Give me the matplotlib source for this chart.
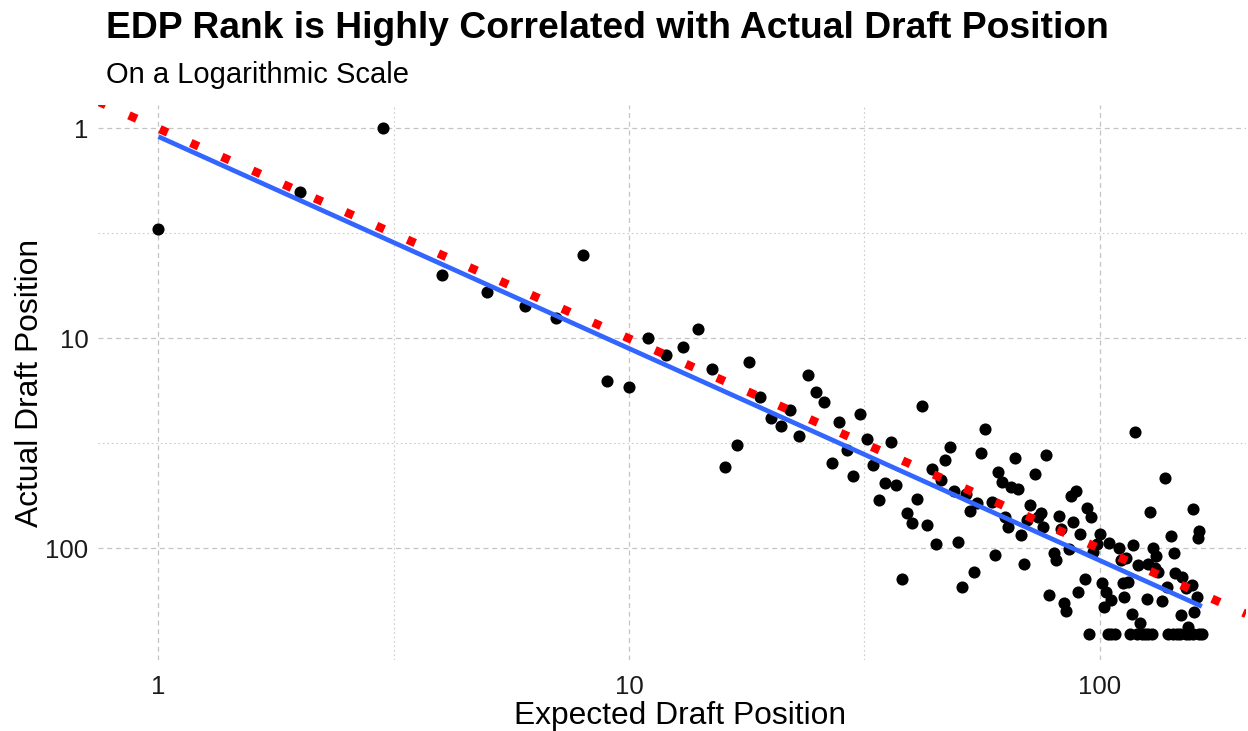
import numpy as np
import matplotlib
matplotlib.use("Agg")
import matplotlib.pyplot as plt
from matplotlib.ticker import FixedLocator, NullFormatter

plt.rcParams['font.family'] = ['Liberation Sans', 'DejaVu Sans']

# expected draft position (EDP rank) and actual draft position
edp = [1, 2, 3, 4, 5, 6, 7, 8, 9, 10, 11, 12, 13, 14, 15, 16, 17, 18, 19, 20,
       21, 22, 23, 24, 25, 26, 27, 28, 29, 30, 31, 32, 33, 34, 35, 36, 37, 38, 39, 40,
       41, 42, 43, 44, 45, 46, 47, 48, 49, 50, 51, 52, 53, 54, 55, 56, 57, 59, 60, 61,
       62, 63, 64, 65, 66, 67, 68, 69, 70, 71, 73, 74, 75, 76, 77, 78, 80, 81, 82, 83,
       84, 85, 86, 87, 88, 89, 90, 91, 93, 94, 96, 97, 99, 100, 101, 102, 103, 105, 106, 110,
       111, 112, 113, 114, 115, 117, 118, 119, 121, 122, 126, 127, 128, 130, 131, 132, 133, 136, 138, 139,
       142, 144, 145, 149, 150, 153, 154, 157, 158, 159, 161, 162, 163,
       95, 104, 108, 116, 120, 125, 129, 140, 143, 148, 153, 158, 165,
       106, 123, 127, 146, 155, 163]
actual = [3, 2, 1, 5, 6, 7, 8, 4, 16, 17, 10, 12, 11, 9, 14, 41, 32, 13, 19, 24,
          26, 22, 29, 15, 18, 20, 39, 25, 34, 45, 23, 30, 40, 59, 49, 31, 50, 140, 68, 76,
          58, 21, 77, 42, 95, 47, 38, 33, 53, 93, 152, 55, 66, 130, 61, 35, 27, 60, 107, 43,
          48, 71, 79, 51, 37, 52, 86, 118, 73, 62, 44, 71, 68, 79, 36, 167, 105, 114, 70, 81,
          181, 198, 101, 56, 75, 53, 162, 85, 140, 64, 71, 104, 95, 85, 146, 189, 161, 94, 176, 100,
          114, 146, 170, 111, 144, 204, 96, 28, 120, 226, 174, 118, 67, 100, 124, 109, 129, 177, 46, 152,
          87, 105, 131, 208, 136, 155, 236, 149, 65, 201, 170, 89, 83,
          255, 255, 255, 255, 255, 255, 255, 255, 255, 255, 255, 255, 255,
          255, 255, 255, 255, 255, 255]

x_limits = (0.744, 204.8)
y_limits = (339.6, 0.773)

fig = plt.figure(figsize=(12.48, 7.31), dpi=100)
ax = fig.add_axes([98 / 1248, 1 - 660 / 731, 1148 / 1248, 555 / 731])
ax.set_xscale('log')
ax.set_yscale('log')
ax.set_xlim(*x_limits)
ax.set_ylim(*y_limits)

# grid: major dashed, minor dotted at half decades
major = [1, 10, 100]
minor = [10 ** 0.5, 10 ** 1.5]
ax.xaxis.set_major_locator(FixedLocator(major))
ax.yaxis.set_major_locator(FixedLocator(major))
ax.xaxis.set_minor_locator(FixedLocator(minor))
ax.yaxis.set_minor_locator(FixedLocator(minor))
ax.xaxis.set_minor_formatter(NullFormatter())
ax.yaxis.set_minor_formatter(NullFormatter())
ax.set_xticklabels(['1', '10', '100'])
ax.set_yticklabels(['1', '10', '100'])
ax.grid(True, which='major', color='#c4c4c4', lw=0.9, linestyle=(0, (4, 3)))
ax.grid(True, which='minor', color='#cccccc', lw=0.8, linestyle=(0, (1.5, 2.5)))
ax.set_axisbelow(True)
for s in ax.spines.values():
    s.set_visible(False)
ax.tick_params(which='both', length=0)
ax.tick_params(axis='x', labelsize=18.5, pad=11, labelcolor='#1a1a1a')
ax.tick_params(axis='y', labelsize=18.5, pad=7, labelcolor='#1a1a1a')

ax.scatter(edp, actual, s=76, color='black', zorder=3, linewidths=0)

# log-log linear fit
lx = np.log10(edp)
ly = np.log10(actual)
slope, icpt = np.polyfit(lx, ly, 1)
xs = np.linspace(lx.min(), lx.max(), 50)
ax.plot(10 ** xs, 10 ** (icpt + slope * xs), color='#3366FF', lw=3.4, zorder=4,
        solid_capstyle='butt')

# reference y = x
ax.plot(x_limits, x_limits, color='red', lw=6.1, linestyle=(0, (1, 3)),
        dash_capstyle='butt', zorder=5)

fig.text(680 / 1248, 1 - 724 / 731, 'Expected Draft Position', fontsize=22.9,
         ha='center', va='baseline')
fig.text(30 / 1248, 1 - 383 / 731, 'Actual Draft Position', fontsize=22.9,
         ha='center', va='center', rotation=90)

fig.text(106 / 1248, 1 - 38 / 731, 'EDP Rank is Highly Correlated with Actual Draft Position',
         fontsize=26.8, fontweight='bold', va='baseline', ha='left')
fig.text(106 / 1248, 1 - 83 / 731, 'On a Logarithmic Scale', fontsize=21,
         va='baseline', ha='left')

fig.savefig('out.png', dpi=100)
